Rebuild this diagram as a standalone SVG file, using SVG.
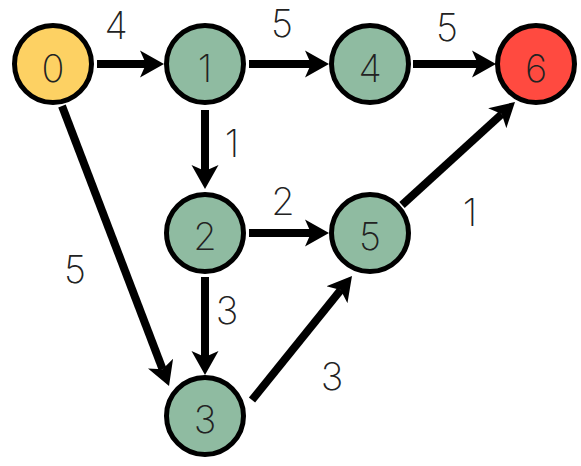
<svg xmlns="http://www.w3.org/2000/svg" width="581" height="466" viewBox="0 0 581 466">
<style>
.node circle{stroke:#000;stroke-width:5}
.node text{font-family:Inter,Roboto,"Liberation Sans",sans-serif;font-weight:200;font-size:38px;fill:#222;text-anchor:middle}
.g{fill:#8FBBA1}
.edge{stroke:#000;stroke-width:8;fill:none;marker-end:url(#ah)}
.lbl{font-family:Inter,Roboto,"Liberation Sans",sans-serif;font-weight:200;font-size:38px;fill:#222;text-anchor:middle}
</style>
<defs>
<marker id="ah" markerUnits="userSpaceOnUse" viewBox="0 -14 24 28" markerWidth="24" markerHeight="28" refX="6" refY="0" orient="auto">
<path d="M0,-13.5 L24,0 L0,13.5 L6,0 Z" fill="#000"/>
</marker>
</defs>
<rect width="581" height="466" fill="#fff"/>
<g id="connectors">
<line class="edge" x1="97" y1="64" x2="146" y2="64"/>
<line class="edge" x1="249" y1="64" x2="311" y2="64"/>
<line class="edge" x1="413" y1="64" x2="478" y2="64"/>
<line class="edge" x1="205" y1="110" x2="205" y2="171"/>
<line class="edge" x1="249" y1="233" x2="311" y2="233"/>
<line class="edge" x1="205" y1="277" x2="205" y2="357"/>
<line class="edge" x1="62" y1="106" x2="162.6" y2="369.2"/>
<line class="edge" x1="252" y1="400" x2="340.7" y2="290"/>
<line class="edge" x1="402" y1="205" x2="501.7" y2="114.1"/>
</g>
<g id="labels">
<text class="lbl" x="116" y="39">4</text>
<text class="lbl" x="282" y="37">5</text>
<text class="lbl" x="447" y="41">5</text>
<text class="lbl" x="232" y="157">1</text>
<text class="lbl" x="283" y="215">2</text>
<text class="lbl" x="470" y="226">1</text>
<text class="lbl" x="75" y="283">5</text>
<text class="lbl" x="227" y="324">3</text>
<text class="lbl" x="332" y="390">3</text>
</g>
<g id="node0" class="node"><circle cx="53" cy="64" r="38.5" fill="#FDD163"/><text x="53" y="82">0</text></g>
<g id="node1" class="node"><circle class="g" cx="205" cy="64" r="38.5"/><text x="205" y="82">1</text></g>
<g id="node4" class="node"><circle class="g" cx="370" cy="64" r="38.5"/><text x="370" y="82">4</text></g>
<g id="node6" class="node"><circle cx="536" cy="64" r="38.5" fill="#FF4A40"/><text x="536" y="82">6</text></g>
<g id="node2" class="node"><circle class="g" cx="205" cy="233" r="38.5"/><text x="205" y="250">2</text></g>
<g id="node5" class="node"><circle class="g" cx="370" cy="233" r="38.5"/><text x="370" y="250">5</text></g>
<g id="node3" class="node"><circle class="g" cx="205" cy="416" r="38.5"/><text x="205" y="433">3</text></g>
</svg>
